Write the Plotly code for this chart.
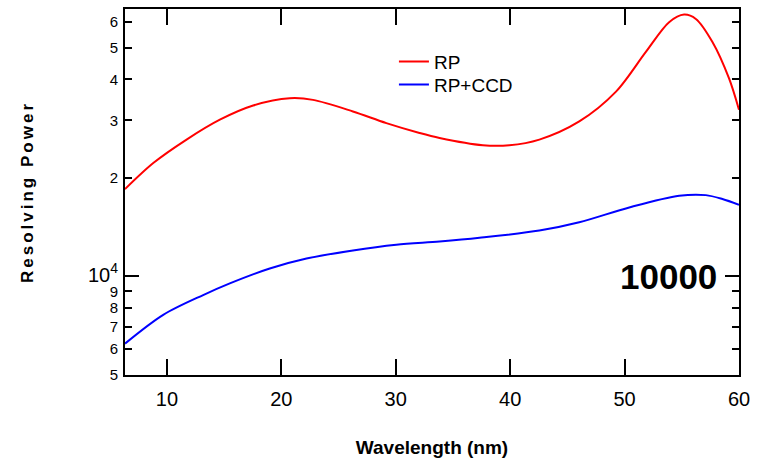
import plotly.graph_objects as go

# Red curve: RP
rp_x = [6.34, 8.81, 11.72, 14.63, 17.54, 20.74, 22.77, 26.26, 29.18, 32.08, 33.83,
        37.61, 39.93, 42.55, 46.04, 49.25, 51.86, 53.89, 55.20, 56.23, 57.68, 59.13, 60.0]
rp_y = [18480, 22200, 26190, 30120, 33280, 35020, 34630, 31910, 29410, 27440, 26490,
        25170, 25170, 26190, 29760, 36700, 48520, 59800, 63100, 61190, 52020, 40250, 32290]

# Blue curve: RP+CCD
ccd_x = [6.34, 9.68, 13.17, 15.50, 18.99, 22.20, 26.26, 30.05, 33.83, 37.32, 42.55,
         46.04, 50.41, 54.77, 57.10, 58.55, 60.0]
ccd_y = [6236, 7633, 8775, 9524, 10573, 11340, 12010, 12500, 12790, 13130, 13810,
         14640, 16250, 17640, 17720, 17240, 16560]

x_ticks = [10, 20, 30, 40, 50, 60]
y_tickvals = [5000, 6000, 7000, 8000, 9000, 10000, 20000, 30000, 40000, 50000, 60000]
y_ticktext = ["5", "6", "7", "8", "9",
              "<span style='font-size:20px'>10<sup>4</sup></span>",
              "2", "3", "4", "5", "6"]

FONT = "Liberation Sans"

fig = go.Figure()
fig.add_trace(go.Scatter(x=rp_x, y=rp_y, mode="lines", name="RP", legend="legend",
                         line=dict(color="#ff0000", width=2, shape="spline", smoothing=0.9)))
fig.add_trace(go.Scatter(x=ccd_x, y=ccd_y, mode="lines", name="RP+CCD", legend="legend2",
                         line=dict(color="#0000ff", width=2, shape="spline", smoothing=0.9)))
# invisible trace to activate overlay axis for the long 10^4 tick
fig.add_trace(go.Scatter(x=[rp_x[0]], y=[rp_y[0]], mode="lines", yaxis="y2",
                         showlegend=False, hoverinfo="skip", line=dict(width=0)))

yrange = [3.699, 4.817]
leg_common = dict(x=0.438, xanchor="left", yanchor="middle",
                  bgcolor="rgba(0,0,0,0)", font=dict(size=19, family=FONT),
                  itemwidth=30)
fig.update_layout(
    width=757, height=463,
    margin=dict(l=125, r=17, t=7, b=88),
    paper_bgcolor="white", plot_bgcolor="white",
    font=dict(family=FONT, color="black"),
    showlegend=True,
    legend=dict(y=(375 - 60) / 368, **leg_common),
    legend2=dict(y=(375 - 83) / 368, **leg_common),
    xaxis=dict(range=[6.34, 60], tickvals=x_ticks, ticks="inside", ticklen=16,
               tickwidth=1.5, tickcolor="black", showline=True, linewidth=2,
               linecolor="black", mirror="ticks", showgrid=False, zeroline=False,
               tickfont=dict(size=20, family=FONT), ticklabelstandoff=5,
               title=dict(text="<b>Wavelength (nm)</b>", font=dict(size=19, family=FONT),
                          standoff=32)),
    yaxis=dict(type="log", range=yrange, tickvals=y_tickvals, ticktext=y_ticktext,
               ticks="inside", ticklen=7, tickwidth=2, tickcolor="black",
               showline=True, linewidth=2, linecolor="black", mirror="ticks",
               showgrid=False, zeroline=False, tickfont=dict(size=15, family=FONT),
               ticklabelstandoff=2,
               title=dict(text="<b><span style='letter-spacing:3px'>Resolving Power</span></b>",
                          font=dict(size=17, family=FONT), standoff=50)),
    yaxis2=dict(type="log", range=yrange, overlaying="y", side="left",
                tickvals=[10000], ticktext=[""], ticks="inside", ticklen=14,
                tickwidth=2, tickcolor="black", mirror="ticks", showline=False,
                showgrid=False, zeroline=False, showticklabels=False),
)

fig.add_annotation(text="<b>10000</b>", xref="paper", yref="y", x=0.967, y=4.0,
                   xanchor="right", yanchor="middle", showarrow=False,
                   font=dict(size=35, family=FONT, color="black"))

fig.write_html("out.html")
